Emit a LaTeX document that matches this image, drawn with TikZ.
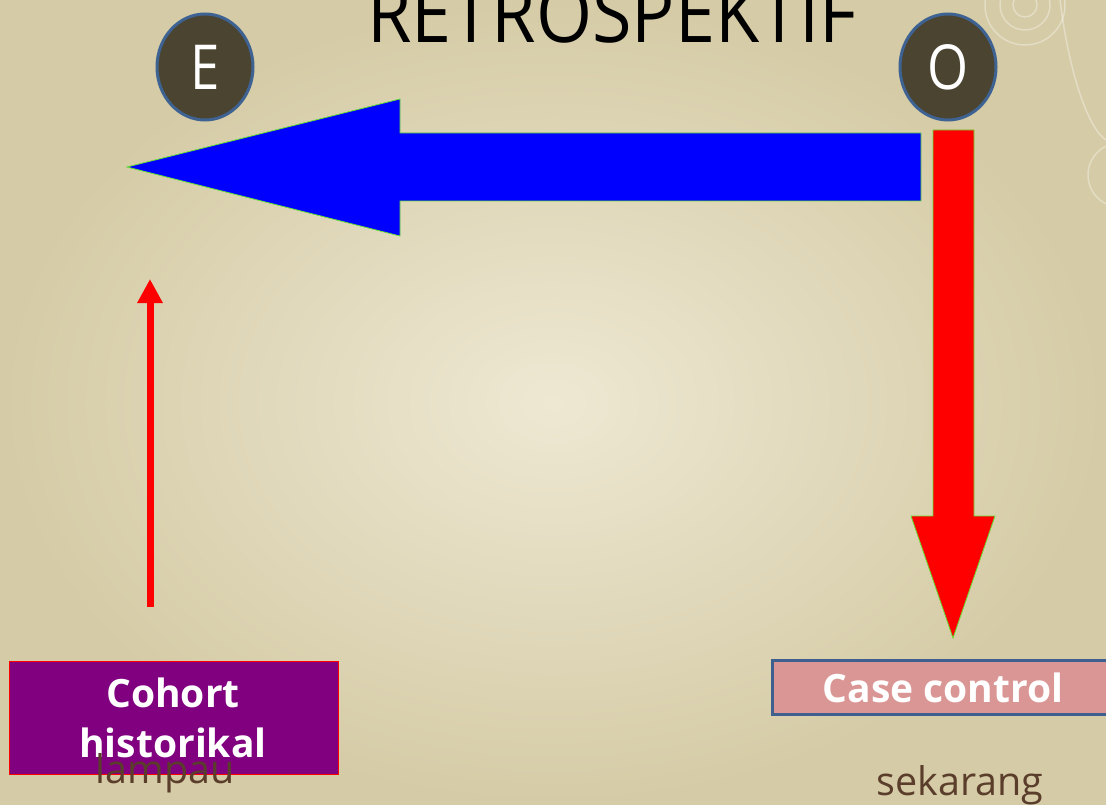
\documentclass[tikz,border=0pt]{standalone}
\usepackage{fontspec}
\setmainfont{Open Sans}
\usetikzlibrary{shapes.geometric,arrows.meta}
\definecolor{bgin}{HTML}{EEE8D3}
\definecolor{bgout}{HTML}{D5CBA6}
\definecolor{olive}{HTML}{4A4430}
\definecolor{ringblue}{HTML}{3E6392}
\definecolor{arrowgreen}{HTML}{66E033}
\definecolor{purplebox}{HTML}{800080}
\definecolor{pinkbox}{HTML}{DA9694}
\definecolor{boxblue}{HTML}{3F5F8F}
\definecolor{browntext}{HTML}{5A3E2B}
\begin{document}
\begin{tikzpicture}[x=1pt,y=-1pt,
  letter/.style={ellipse, fill=olive, draw=ringblue, line width=3pt,
    minimum width=96pt, minimum height=106pt, inner sep=0pt, text=white,
    font=\fontsize{62}{62}\selectfont},
  fatarrow/.style={draw=arrowgreen, line width=0.8pt, line join=miter},
  boxlabel/.style={text=white, font=\bfseries\fontsize{39}{50}\selectfont, align=center, inner sep=0pt},
  timetext/.style={text=browntext, font=\fontsize{39.5}{39.5}\selectfont, anchor=base, inner sep=0pt},
  swirl/.style={draw=white, opacity=0.35, line width=1.5pt}
]
\useasboundingbox (0,0) rectangle (1106,805);
\shade[inner color=bgin, outer color=bgout] (0,0) rectangle (1106,805);
% decorative swirls
\begin{scope}
\clip (0,0) rectangle (1106,805);
\draw[swirl] (1025,5) circle (12);
\draw[swirl] (1025,5) circle (25);
\draw[swirl] (1025,5) circle (40);
\draw[swirl] (1060,0) .. controls (1070,80) and (1090,130) .. (1106,140);
\draw[swirl] (1120,175) circle (32);
\end{scope}
% title
\node[anchor=base, inner sep=0pt, font=\fontsize{80}{80}\selectfont] (title) at (612,43) {\scalebox{0.9}[1]{RETROSPEKTIF}};
% E and O
\node[letter] (E) at (205,67) {\scalebox{0.85}[1]{E}};
\node[letter] (O) at (948,67) {\scalebox{0.85}[1]{O}};
% blue arrow
\coordinate (btip) at (127,167);
\draw[fatarrow, fill=blue] (921,133) -- (400,133) -- (400,99) -- (btip) -- (400,236) -- (400,201) -- (921,201) -- cycle;
% red arrow
\coordinate (rtip) at (953,638);
\draw[fatarrow, fill=red] (933,130) -- (974,130) -- (974,516) -- (995,516) -- (rtip) -- (911,516) -- (933,516) -- cycle;
% thin red arrow
\coordinate (cstart) at (150,607);
\coordinate (ctip) at (150,279);
\draw[red, line width=7pt, -{Triangle[width=24pt,length=24pt]}] (cstart) -- (ctip);
% boxes
\node[draw=red, line width=1pt, fill=purplebox, minimum width=329pt, minimum height=113pt, inner sep=0pt] (cohort) at (173.5,717.5) {};
\node[boxlabel] (cohortlbl) at (173,718) {Cohort\\historikal};
\node[draw=boxblue, line width=3pt, fill=pinkbox, minimum width=342pt, minimum height=54pt, inner sep=0pt] (casebox) at (943,687) {};
\node[boxlabel, anchor=base] (caselbl) at (943,702) {Case control};
% time labels
\node[timetext] (lampau) at (165,783) {lampau};
\node[timetext] (sekarang) at (960,795) {sekarang};
\end{tikzpicture}
\end{document}
